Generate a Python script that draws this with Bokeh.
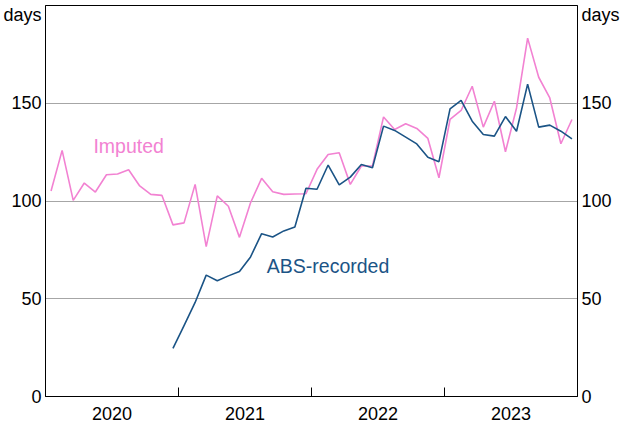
import pandas as pd
from bokeh.plotting import figure
from bokeh.models import Range1d, LinearAxis, FixedTicker, Label
from bokeh.embed import file_html
from bokeh.resources import INLINE

# Monthly observations, Jan 2020 - Dec 2023
months = pd.date_range("2020-01-01", "2023-12-01", freq="MS")

imputed = [105.1, 125.9, 100.3, 109.2, 104.6, 113.4, 113.8, 116.0, 107.7, 103.4, 102.9, 87.8,
           88.8, 108.5, 76.7, 102.6, 97.3, 81.4, 99.1, 111.6, 104.7, 103.4, 103.6, 103.7,
           116.2, 123.8, 124.7, 108.5, 117.9, 117.9, 143.0, 136.6, 139.5, 137.1, 132.0, 111.9,
           141.7, 146.3, 158.7, 137.8, 151.0, 125.2, 147.6, 183.3, 163.3, 152.7, 129.3, 141.7]

abs_recorded = [None] * 11 + [
    24.6,
    36.3, 48.1, 62.1, 59.2, 61.7, 63.9, 71.4, 83.3, 81.6, 84.7, 86.7, 106.5,
    106.0, 118.4, 108.2, 112.2, 118.7, 117.0, 138.3, 136.1, 132.7, 129.2, 122.4, 120.1,
    147.1, 151.5, 140.8, 134.0, 133.2, 143.2, 135.7, 159.8, 137.8, 138.8, 135.7, 131.8]

year_labels = ["2020", "2021", "2022", "2023"]
y_ticks = [0, 50, 100, 150]
unit_label = "days"
UNIT_POS = 195.0  # vertical placement of the unit label on both axes

PINK = "#F282D2"
BLUE = "#1B5486"
FONT = "Liberation Sans"
FS = "18px"
FS_SERIES = "19.5px"

# decimal-year positions (mid-month)
xs = [d.year + (d.month - 0.5) / 12 for d in months]
abs_x = [x for x, v in zip(xs, abs_recorded) if v is not None]
abs_y = [v for v in abs_recorded if v is not None]

p = figure(width=622, height=425, output_backend="svg", toolbar_location=None,
           x_range=Range1d(2020, 2024), y_range=Range1d(0, 200),
           min_border_left=45, min_border_right=44, min_border_top=5, min_border_bottom=29,
           background_fill_color="white", border_fill_color="white")

p.outline_line_color = "black"
p.outline_line_width = 1
p.outline_line_alpha = 1

p.line(xs, imputed, line_color=PINK, line_width=1.6)
p.line(abs_x, abs_y, line_color=BLUE, line_width=1.6)

# x axis
yr_mid = [int(y) + 0.5 for y in year_labels]
xt = FixedTicker(ticks=yr_mid, minor_ticks=[int(y) for y in year_labels[1:]])
xa = p.xaxis[0]
xa.ticker = xt
xa.major_label_overrides = {m: lab for m, lab in zip(yr_mid, year_labels)}
xa.major_tick_in = 0
xa.major_tick_out = 0
xa.minor_tick_in = 9
xa.minor_tick_out = 0
xa.minor_tick_line_color = "black"
xa.axis_line_color = "black"
xa.major_label_text_font = FONT
xa.major_label_text_font_size = FS
xa.major_label_text_color = "black"
xa.major_label_standoff = 10

# y axes (unit label carried as an extra labelled tick near the top)
ytk = y_ticks + [UNIT_POS]
ya = p.yaxis[0]
ya.ticker = FixedTicker(ticks=ytk)
p.add_layout(LinearAxis(ticker=FixedTicker(ticks=ytk)), "right")
for ax in p.yaxis:
    ax.major_label_overrides = {UNIT_POS: unit_label}
    ax.major_tick_in = 0
    ax.major_tick_out = 0
    ax.minor_tick_in = 0
    ax.minor_tick_out = 0
    ax.axis_line_color = "black"
    ax.major_label_text_font = FONT
    ax.major_label_text_font_size = FS
    ax.major_label_text_color = "black"
    ax.major_label_standoff = 4

p.xgrid.visible = False
p.ygrid.ticker = FixedTicker(ticks=y_ticks[1:])
p.ygrid.grid_line_color = "#A6A6A6"
p.ygrid.grid_line_width = 1

# series labels
p.add_layout(Label(x=2020.36, y=127.9, text="Imputed", text_align="left", text_baseline="middle",
                   text_font=FONT, text_font_size=FS_SERIES, text_color=PINK))
p.add_layout(Label(x=2021.664, y=67.0, text="ABS-recorded", text_align="left", text_baseline="middle",
                   text_font=FONT, text_font_size=FS_SERIES, text_color=BLUE))

open("out.html", "w").write(file_html(p, INLINE))
